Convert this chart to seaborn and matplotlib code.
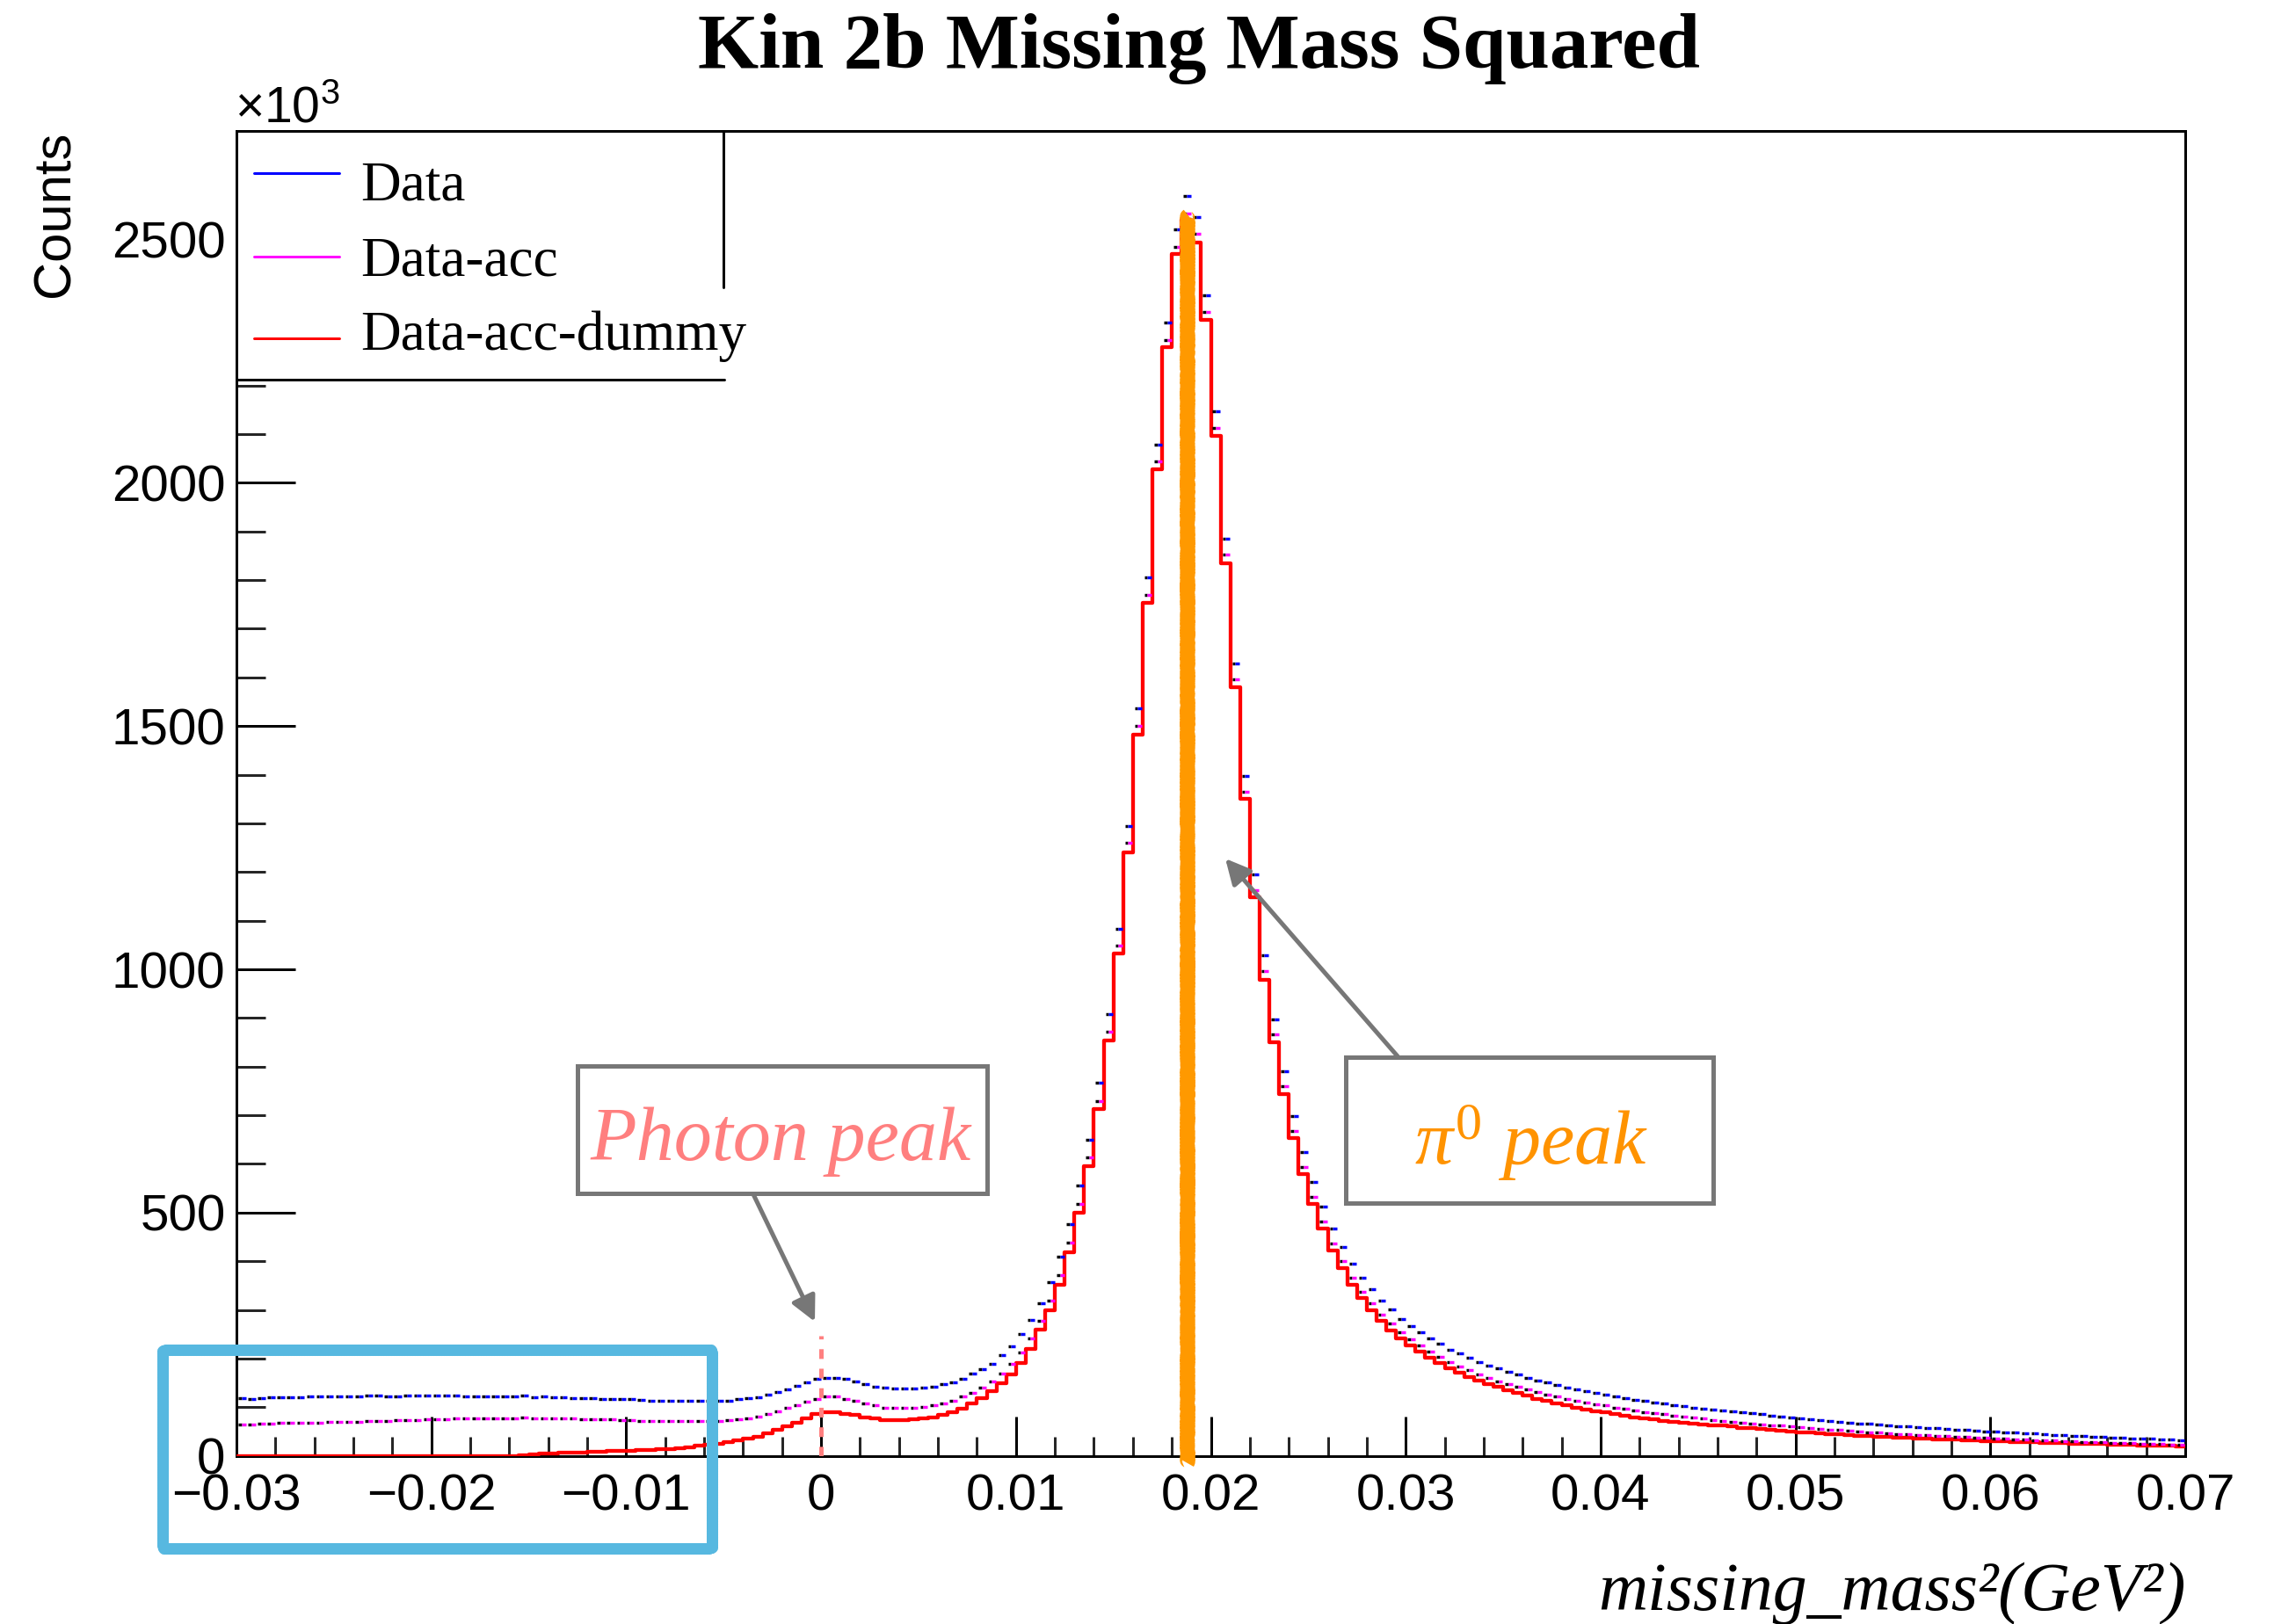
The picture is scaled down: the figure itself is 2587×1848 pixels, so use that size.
import numpy as np
import pandas as pd
import matplotlib
matplotlib.use("Agg")
import matplotlib.pyplot as plt
import seaborn as sns
from matplotlib.patches import Rectangle, FancyArrowPatch, ArrowStyle
from matplotlib.lines import Line2D
from matplotlib.ticker import MultipleLocator

# ---------------- data ----------------
X_MIN, X_MAX, N_BINS = -0.03, 0.07, 200
Y_MAX = 2724

data_counts = [
    118.5, 117.5, 119, 120, 120.5, 120.5, 121, 122, 122, 123,
    122.5, 122, 122.5, 123.5, 123.5, 123, 123, 124, 124.5, 124.5,
    124, 124.5, 123.5, 123, 123, 123, 123, 123, 123, 123.5,
    120.5, 121.5, 120.5, 120, 119, 118.5, 118, 117.5, 117, 116.5,
    116, 115, 114, 113.5, 113, 113, 113, 113, 113, 113,
    113.5, 117, 118.6, 121, 125, 131, 137, 144, 150.5, 158,
    161, 161, 158, 153, 147, 143, 140, 138.5, 138.5, 138.5,
    141, 143, 147, 152, 159, 168.5, 179, 190, 208, 225,
    250, 279, 313, 357, 409, 475.5, 556, 650, 767, 908,
    1083, 1295, 1536, 1805, 2079, 2329, 2520, 2589, 2546, 2385,
    2147, 1885, 1628, 1398, 1195, 1029, 897, 790, 699, 625,
    563, 511.6, 466.5, 429.1, 394.8, 365.9, 341.9, 319, 300.4, 281.6,
    266.7, 254, 240.8, 230, 218.5, 210.2, 201.1, 192.6, 185.4, 179.5,
    172.8, 166.8, 160.7, 155.3, 150.6, 145.7, 140.8, 137.2, 133, 129.4,
    125.8, 122.2, 119.2, 115.5, 112.6, 109.6, 107.2, 104.7, 102.4, 99.3,
    97.5, 95.6, 93.7, 91.6, 89.5, 87.4, 85.5, 83.3, 81.2, 79.2,
    77.3, 75.5, 73.7, 72, 70.2, 68.5, 67, 65.5, 64.2, 62.8,
    61.4, 60.1, 58.9, 57.6, 56.4, 55.2, 54, 52.8, 51.6, 50.4,
    49.3, 48.4, 47.5, 46.6, 45.6, 44.7, 43.6, 42.5, 41.4, 40.4,
    39.4, 38.7, 38, 37.2, 36.4, 35.7, 35, 34.2, 33.4, 32.7,
]

data_acc_counts = [
    64.5, 64.5, 65.5, 66.5, 67.5, 67.5, 68, 68.5, 68.5, 69,
    69.5, 70, 70.5, 71.5, 72, 72.5, 73, 73.5, 74, 75,
    75.5, 76, 76.5, 77, 77, 77, 77, 77.5, 78, 79,
    78, 77.5, 77, 77, 76.5, 76, 75.5, 75, 74.8, 74,
    73.5, 72.5, 71.5, 71, 71, 71, 71, 71, 71, 72,
    73.5, 75, 78, 81, 87, 92, 99, 105, 111, 117,
    121.5, 121.5, 117, 113, 107, 103.5, 99, 98, 98, 98,
    101, 103.5, 108, 114, 121.5, 130, 141, 153, 170, 188.5,
    212.5, 242, 277, 320, 372, 438, 518, 613, 730, 872,
    1048, 1260, 1501, 1769, 2044, 2294, 2484, 2554, 2511, 2351,
    2112, 1852, 1596, 1365, 1163, 997, 866, 759, 668, 594,
    531.5, 481.5, 436.4, 399.7, 365.9, 337, 313, 290.7, 272.6, 254,
    239.6, 226.9, 213.8, 203.5, 192.6, 183.6, 175.8, 167.4, 159.6, 153.5,
    147.5, 141.5, 136.7, 131.2, 126.4, 122.2, 117.3, 113.2, 109.6, 106.5,
    103.6, 99.3, 96.4, 93.3, 90.3, 87.9, 85.6, 83, 80.7, 78.4,
    76.3, 74.3, 72.4, 70.5, 68.7, 67, 65.3, 63.5, 61.8, 60.2,
    58.6, 57.1, 55.6, 54.2, 52.8, 51.4, 50, 48.8, 47.6, 46.5,
    45.5, 44.5, 43.3, 42.3, 41.2, 40.3, 39.3, 38.3, 37.4, 36.8,
    36, 35, 34.2, 33.4, 32.8, 32, 31.3, 30.6, 30, 29.2,
    28.5, 27.8, 27.1, 26.6, 26, 25.4, 24.8, 24.2, 23.6, 23,
]

data_acc_dummy_counts = [
    0, 0, 0, 0, 0, 0, 0, 0, 0, 0,
    0, 0, 0, 0, 0, 0, 0, 0, 0, 0,
    0, 0, 0, 0, 0, 0, 0, 0, 0, 1.5,
    3, 4, 5, 6, 6.5, 7.5, 8, 9, 10, 10.5,
    11, 12, 13, 13.5, 14, 16, 18, 20.5, 23, 25,
    28, 32, 36, 40, 46, 53, 60, 68, 77, 85.5,
    90, 90, 87, 84, 79, 76.5, 74, 73.5, 73.5, 74.5,
    77, 79, 84, 90, 97.5, 108, 119, 132.5, 149, 167,
    191, 220, 259, 300, 352, 418, 500, 595, 712, 854,
    1032, 1241, 1483, 1753, 2028, 2278, 2470, 2540, 2494, 2335,
    2097, 1835, 1580, 1350, 1149, 979, 850, 743, 653, 580,
    517.6, 466.5, 422.5, 385.2, 352, 325, 299.7, 276.9, 257.6, 242,
    226.9, 213.7, 201.6, 190.8, 180.5, 171.5, 162.5, 155.3, 147.5, 141.5,
    135.4, 129.4, 123.5, 117.3, 113.2, 108.3, 103.6, 99.3, 95.1, 91.5,
    89.2, 85.6, 82.5, 79.4, 77.1, 74.7, 72.2, 70.4, 68.1, 66.3,
    65, 63.5, 62, 60, 58, 56.5, 55, 53, 51.5, 50,
    49, 47.5, 46, 45, 44, 42.5, 41.5, 40.5, 39.5, 38.7,
    38, 37, 36, 35.2, 34.4, 33.6, 33, 32.2, 31.5, 31,
    30.3, 29.6, 29, 28.3, 27.8, 27.2, 26.6, 26, 25.5, 25,
    24.5, 24, 23.5, 23, 22.5, 22, 21.5, 21, 20.5, 20,
]

x_major_ticks = [-0.03, -0.02, -0.01, 0.0, 0.01, 0.02, 0.03, 0.04, 0.05, 0.06, 0.07]
x_tick_labels = ["\u22120.03", "\u22120.02", "\u22120.01", "0", "0.01", "0.02",
                 "0.03", "0.04", "0.05", "0.06", "0.07"]
y_major_ticks = [0, 500, 1000, 1500, 2000, 2500]
y_tick_labels = ["0", "500", "1000", "1500", "2000", "2500"]

legend_labels = ["Data", "Data-acc", "Data-acc-dummy"]
series_colors = ["#0000FF", "#FF00FF", "#FF0000"]
title_text = "Kin 2b Missing Mass Squared"
x_label_text = "missing_mass\u00b2(GeV\u00b2)"
y_label_text = "Counts"
multiplier_text = r"$\mathsf{\times10^{3}}$"
photon_peak_x = 0.0
pi0_peak_x = 0.0188
pi0_line_top = 2550
photon_line_top = 247

# ---------------- figure ----------------
sns.set_theme(style="white")
plt.rcParams["font.family"] = ["Liberation Sans", "DejaVu Sans"]
plt.rcParams["lines.scale_dashes"] = False
plt.rcParams["mathtext.fontset"] = "custom"
plt.rcParams["mathtext.it"] = "Liberation Serif:italic"
plt.rcParams["mathtext.rm"] = "Liberation Serif"
plt.rcParams["mathtext.sf"] = "Liberation Sans"

W, H, DPI = 2587, 1848, 100
PT = 72.0 / DPI  # points per pixel
fig = plt.figure(figsize=(W / DPI, H / DPI), dpi=DPI)
fig.patch.set_facecolor("white")


def fx(px):
    return px / W


def fy(py):
    return 1 - py / H


AX_L, AX_R, AX_T, AX_B = 269, 2486, 148.5, 1656.7
ax = fig.add_axes([fx(AX_L), fy(AX_B), (AX_R - AX_L) / W, (AX_B - AX_T) / H])
ax.set_facecolor("white")

edges = np.linspace(X_MIN, X_MAX, N_BINS + 1)
centers = 0.5 * (edges[:-1] + edges[1:])
width = edges[1] - edges[0]
df = pd.DataFrame({
    "x": centers,
    "data": data_counts,
    "acc": data_acc_counts,
    "dummy": data_acc_dummy_counts,
})

# red step histogram (Data-acc-dummy)
sns.histplot(data=df, x="x", weights="dummy", bins=N_BINS, binrange=(X_MIN, X_MAX),
             element="step", fill=False, color=series_colors[2], linewidth=4.3 * PT,
             ax=ax, zorder=3)

# Data and Data-acc drawn as short horizontal dashes per bin (black + colour)
for col, color in (("data", series_colors[0]), ("acc", series_colors[1])):
    ax.hlines(df[col], edges[:-1] + 0.18 * width, edges[:-1] + 0.5 * width,
              colors="black", linewidth=3.4 * PT, zorder=4)
    ax.hlines(df[col], edges[:-1] + 0.5 * width, edges[:-1] + 0.95 * width,
              colors=color, linewidth=3.4 * PT, zorder=4)

# pi0 marker (thick orange vertical line)
pi0_line, = ax.plot([pi0_peak_x, pi0_peak_x], [-15, pi0_line_top], color="#FF9900",
                    linewidth=16 * PT, solid_capstyle="butt", zorder=5, clip_on=False)
pi0_line.set_sketch_params(scale=0.8, length=4, randomness=2)
# photon marker (salmon dashed)
ax.plot([photon_peak_x, photon_peak_x], [0, photon_line_top], color="#FF8080",
        linewidth=5 * PT, dashes=(8, 8), zorder=6)

ax.set_xlim(X_MIN, X_MAX)
ax.set_ylim(0, Y_MAX)
ax.set_xlabel("")
ax.set_ylabel("")
ax.set_xticks(x_major_ticks, labels=x_tick_labels)
ax.set_yticks(y_major_ticks, labels=y_tick_labels)
ax.xaxis.set_minor_locator(MultipleLocator(0.002))
ax.yaxis.set_minor_locator(MultipleLocator(100))
ax.tick_params(axis="x", which="major", direction="in", length=45 * PT, width=3 * PT,
               labelsize=42, pad=14, top=False, bottom=True, colors="black")
ax.tick_params(axis="x", which="minor", direction="in", length=22.5 * PT, width=3 * PT,
               top=False, bottom=True)
ax.tick_params(axis="y", which="major", direction="in", length=67 * PT, width=3 * PT,
               labelsize=42, pad=9, right=False, left=True, colors="black")
ax.tick_params(axis="y", which="minor", direction="in", length=33 * PT, width=3 * PT,
               right=False, left=True)
for s in ax.spines.values():
    s.set_visible(True)
    s.set_color("black")
    s.set_linewidth(3 * PT)

# ---------------- legend (ROOT style) ----------------
ax.add_patch(Rectangle((fx(271), fy(430)), (821 - 271) / W, (430 - 151) / H,
                       transform=fig.transFigure, facecolor="white", edgecolor="none",
                       zorder=2.6, clip_on=False))
ax.add_line(Line2D([fx(823), fx(823)], [fy(AX_T), fy(327)], transform=fig.transFigure,
                   color="black", linewidth=3 * PT, zorder=7, clip_on=False))
ax.add_line(Line2D([fx(AX_L), fx(824)], [fy(432), fy(432)], transform=fig.transFigure,
                   color="black", linewidth=3 * PT, zorder=7, clip_on=False))
leg_line_y = [197, 292, 385]
leg_text_y = [228, 313, 398]
for lab, col, ly, ty in zip(legend_labels, series_colors, leg_line_y, leg_text_y):
    ax.add_line(Line2D([fx(289), fx(386)], [fy(ly), fy(ly)], transform=fig.transFigure,
                       color=col, linewidth=3 * PT, zorder=7, clip_on=False))
    fig.text(fx(410), fy(ty), lab, fontsize=45.5, family="Liberation Serif",
             ha="left", va="baseline", color="black", zorder=8)

# ---------------- titles / labels ----------------
fig.text(fx(1363.5), fy(77), title_text, fontsize=64, fontweight="bold",
         family="Liberation Serif", ha="center", va="baseline", color="black")
fig.text(fx(AX_R + 1), fy(1832), x_label_text, fontsize=56, style="italic",
         family="Liberation Serif", ha="right", va="baseline", color="black")
fig.text(fx(63), fy(AX_T), y_label_text, fontsize=43, rotation=90,
         family="Liberation Sans", ha="center", va="top", color="black")
fig.text(fx(267), fy(140), multiplier_text, fontsize=41,
         ha="left", va="baseline", color="black")

# ---------------- annotation boxes ----------------
box_edge = "#777777"
fig.add_artist(Rectangle((fx(657), fy(1358)), (1123 - 657) / W, (1358 - 1213) / H,
                         transform=fig.transFigure, facecolor="white", edgecolor=box_edge,
                         linewidth=5 * PT, zorder=7))
fig.text(fx(888.5), fy(1320), "Photon peak", fontsize=62, style="italic",
         family="Liberation Serif", color="#FF7F7F", ha="center", va="baseline", zorder=8)

fig.add_artist(Rectangle((fx(1531), fy(1369)), (1949 - 1531) / W, (1369 - 1203) / H,
                         transform=fig.transFigure, facecolor="white", edgecolor=box_edge,
                         linewidth=5 * PT, zorder=7))
fig.text(fx(1742), fy(1325), r"$\pi^{0}$ peak", fontsize=62, style="italic",
         family="Liberation Serif", color="#FF9300", ha="center", va="baseline", zorder=8)

arrow_style = ArrowStyle("-|>", head_length=24 * PT, head_width=12 * PT)
for (x0, y0), (x1, y1) in (((857, 1359), (927, 1504)), ((1590, 1202), (1394, 977))):
    fig.add_artist(FancyArrowPatch((fx(x0), fy(y0)), (fx(x1), fy(y1)),
                                   transform=fig.transFigure, arrowstyle=arrow_style,
                                   mutation_scale=1, linewidth=5 * PT, color=box_edge,
                                   shrinkA=0, shrinkB=0, zorder=6))

# hand-drawn highlight box (cyan)
cyan = Rectangle((fx(185), fy(1762)), (810 - 185) / W, (1762 - 1536) / H,
                 transform=fig.transFigure, fill=False, edgecolor="#57B8E0",
                 linewidth=11 * PT, joinstyle="round", capstyle="round", zorder=9)
cyan.set_sketch_params(scale=1.2, length=3, randomness=1)
fig.add_artist(cyan)

fig.savefig("out.png", dpi=DPI, facecolor="white")
